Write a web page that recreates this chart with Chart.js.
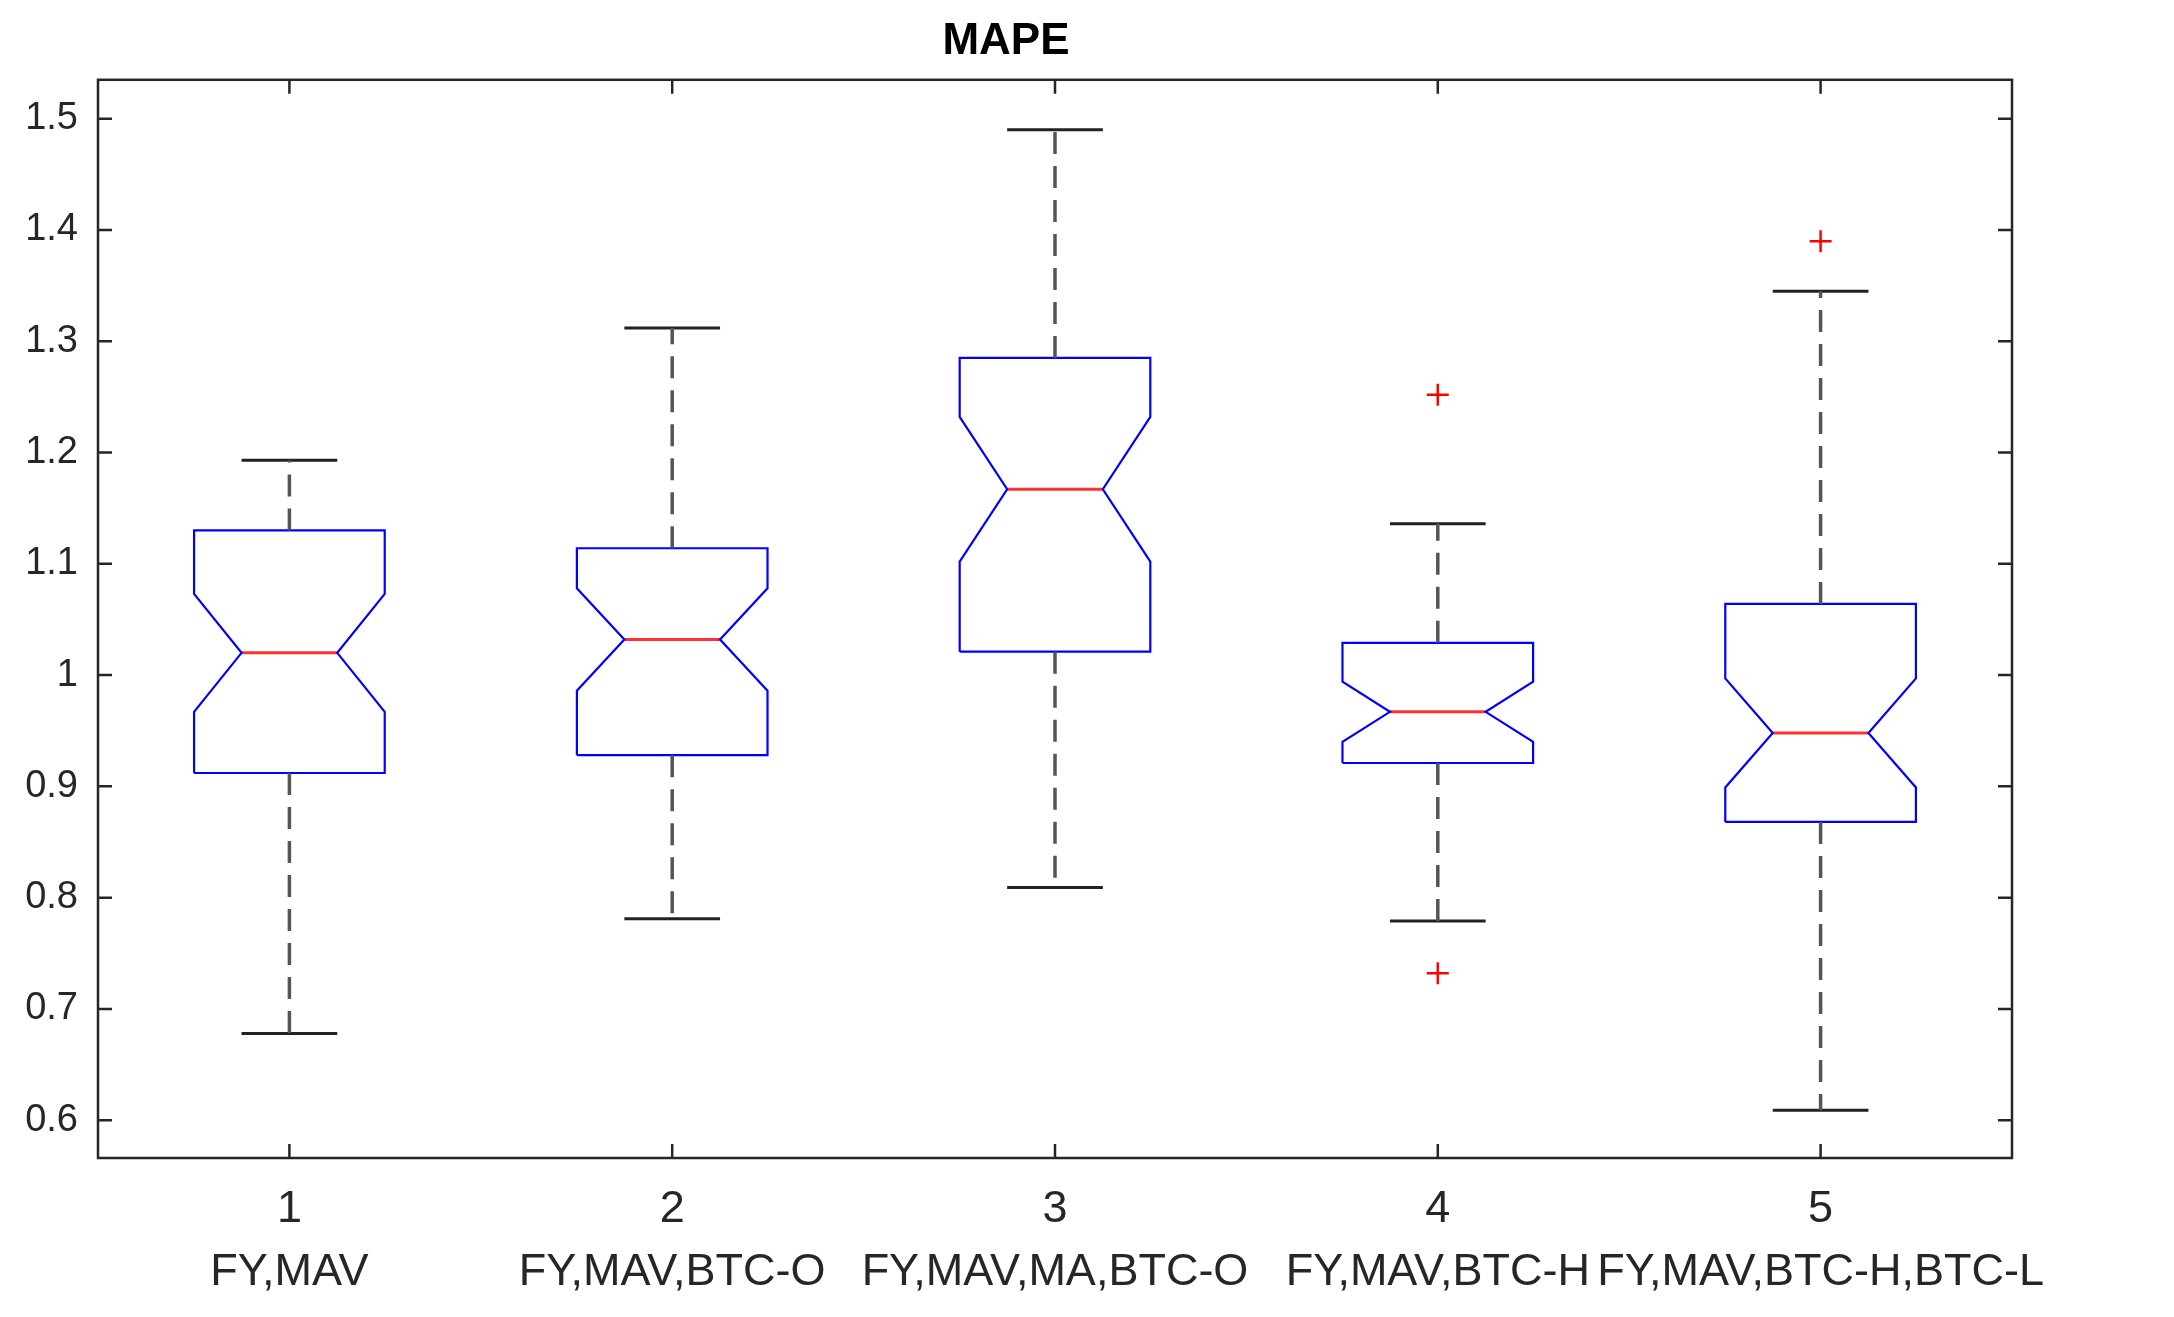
<!DOCTYPE html>
<html>
<head>
<meta charset="utf-8">
<script src="https://cdn.jsdelivr.net/npm/chart.js@4/dist/chart.umd.min.js"></script>
<style>
  html, body { margin: 0; padding: 0; background: #fff; }
  #wrap { width: 2174px; height: 1317px; }
</style>
</head>
<body>
<div id="wrap"><canvas id="c"></canvas></div>
<script>
// Box plot values
const groups = ["FY,MAV", "FY,MAV,BTC-O", "FY,MAV,MA,BTC-O", "FY,MAV,BTC-H", "FY,MAV,BTC-H,BTC-L"];
const whiskerLow  = [0.678, 0.781, 0.809, 0.779, 0.609];
const q1          = [0.912, 0.928, 1.021, 0.921, 0.868];
const median      = [1.020, 1.032, 1.167, 0.967, 0.948];
const q3          = [1.130, 1.114, 1.285, 1.029, 1.064];
const whiskerHigh = [1.193, 1.312, 1.490, 1.136, 1.345];
const notchLow    = [0.967, 0.986, 1.102, 0.940, 0.899];
const notchHigh   = [1.073, 1.078, 1.232, 0.994, 0.997];
const outliers    = [[], [], [], [1.252, 0.732], [1.390]];
const yTicks = [0.6, 0.7, 0.8, 0.9, 1.0, 1.1, 1.2, 1.3, 1.4, 1.5];

const HALF = 0.249, NOTCH = 0.125, CAP = 0.125;
const datasets = [];

groups.forEach((g, i) => {
  const x = i + 1;
  // whiskers (dashed)
  datasets.push({ data: [{x, y: q3[i]}, {x, y: whiskerHigh[i]}], borderColor: "#555", borderWidth: 3.5, borderDash: [22, 12] });
  datasets.push({ data: [{x, y: q1[i]}, {x, y: whiskerLow[i]}], borderColor: "#555", borderWidth: 3.5, borderDash: [22, 12] });
  // caps
  datasets.push({ data: [{x: x - CAP, y: whiskerHigh[i]}, {x: x + CAP, y: whiskerHigh[i]}], borderColor: "#222", borderWidth: 3 });
  datasets.push({ data: [{x: x - CAP, y: whiskerLow[i]}, {x: x + CAP, y: whiskerLow[i]}], borderColor: "#222", borderWidth: 3 });
  // notched box
  datasets.push({
    data: [
      {x: x - HALF, y: q1[i]}, {x: x + HALF, y: q1[i]}, {x: x + HALF, y: notchLow[i]},
      {x: x + NOTCH, y: median[i]}, {x: x + HALF, y: notchHigh[i]}, {x: x + HALF, y: q3[i]},
      {x: x - HALF, y: q3[i]}, {x: x - HALF, y: notchHigh[i]}, {x: x - NOTCH, y: median[i]},
      {x: x - HALF, y: notchLow[i]}, {x: x - HALF, y: q1[i]}
    ],
    borderColor: "#0000ff", borderWidth: 2.2
  });
  // median
  datasets.push({ data: [{x: x - NOTCH, y: median[i]}, {x: x + NOTCH, y: median[i]}], borderColor: "#ff3030", borderWidth: 3 });
  // outliers
  if (outliers[i].length) {
    datasets.push({
      data: outliers[i].map(v => ({x, y: v})), showLine: false,
      pointStyle: "cross", pointRadius: 11, pointBorderWidth: 2.5, pointBorderColor: "#ff0000"
    });
  }
});
datasets.forEach(d => {
  if (d.showLine === undefined) d.showLine = true;
  if (d.pointRadius === undefined) d.pointRadius = 0;
  d.fill = false;
});

// MATLAB-like frame with inward ticks
const framePlugin = {
  id: "frame",
  afterDraw(chart) {
    const { ctx, chartArea: a, scales } = chart;
    ctx.save();
    ctx.strokeStyle = "#262626";
    ctx.lineWidth = 2.5;
    ctx.strokeRect(a.left, a.top, a.right - a.left, a.bottom - a.top);
    const t = 14;
    ctx.beginPath();
    yTicks.forEach(v => {
      const py = scales.y.getPixelForValue(v);
      ctx.moveTo(a.left, py); ctx.lineTo(a.left + t, py);
      ctx.moveTo(a.right, py); ctx.lineTo(a.right - t, py);
    });
    groups.forEach((g, i) => {
      const px = scales.x.getPixelForValue(i + 1);
      ctx.moveTo(px, a.bottom); ctx.lineTo(px, a.bottom - t);
      ctx.moveTo(px, a.top); ctx.lineTo(px, a.top + t);
    });
    ctx.stroke();
    ctx.restore();
  }
};

new Chart(document.getElementById("c"), {
  type: "scatter",
  data: { datasets },
  plugins: [framePlugin],
  options: {
    responsive: true, maintainAspectRatio: false, animation: false,
    layout: { padding: { left: 0, right: 162, top: 0, bottom: 0 } },
    plugins: {
      legend: { display: false }, tooltip: { enabled: false },
      title: {
        display: true, text: "MAPE", color: "#000",
        font: { family: "Liberation Sans, Arial", size: 44, weight: "bold" },
        padding: { top: 15, bottom: 12 }
      }
    },
    scales: {
      x: {
        type: "linear", min: 0.5, max: 5.5,
        grid: { display: false }, border: { display: false },
        afterBuildTicks: s => { s.ticks = groups.map((g, i) => ({ value: i + 1 })); },
        afterFit: s => { s.height = 159; },
        ticks: {
          color: "#262626", padding: 12, maxRotation: 0, autoSkip: false,
          font: { family: "Liberation Sans, Arial", size: 45, lineHeight: 1.4 },
          callback: v => [String(v), groups[v - 1]]
        }
      },
      y: {
        min: 0.566, max: 1.535,
        grid: { display: false }, border: { display: false },
        afterBuildTicks: s => { s.ticks = yTicks.map(v => ({ value: v })); },
        afterFit: s => { s.width = 98; },
        ticks: {
          color: "#262626", padding: 12,
          font: { family: "Liberation Sans, Arial", size: 38 },
          callback: v => String(Math.round(v * 10) / 10)
        }
      }
    }
  }
});
</script>
</body>
</html>
